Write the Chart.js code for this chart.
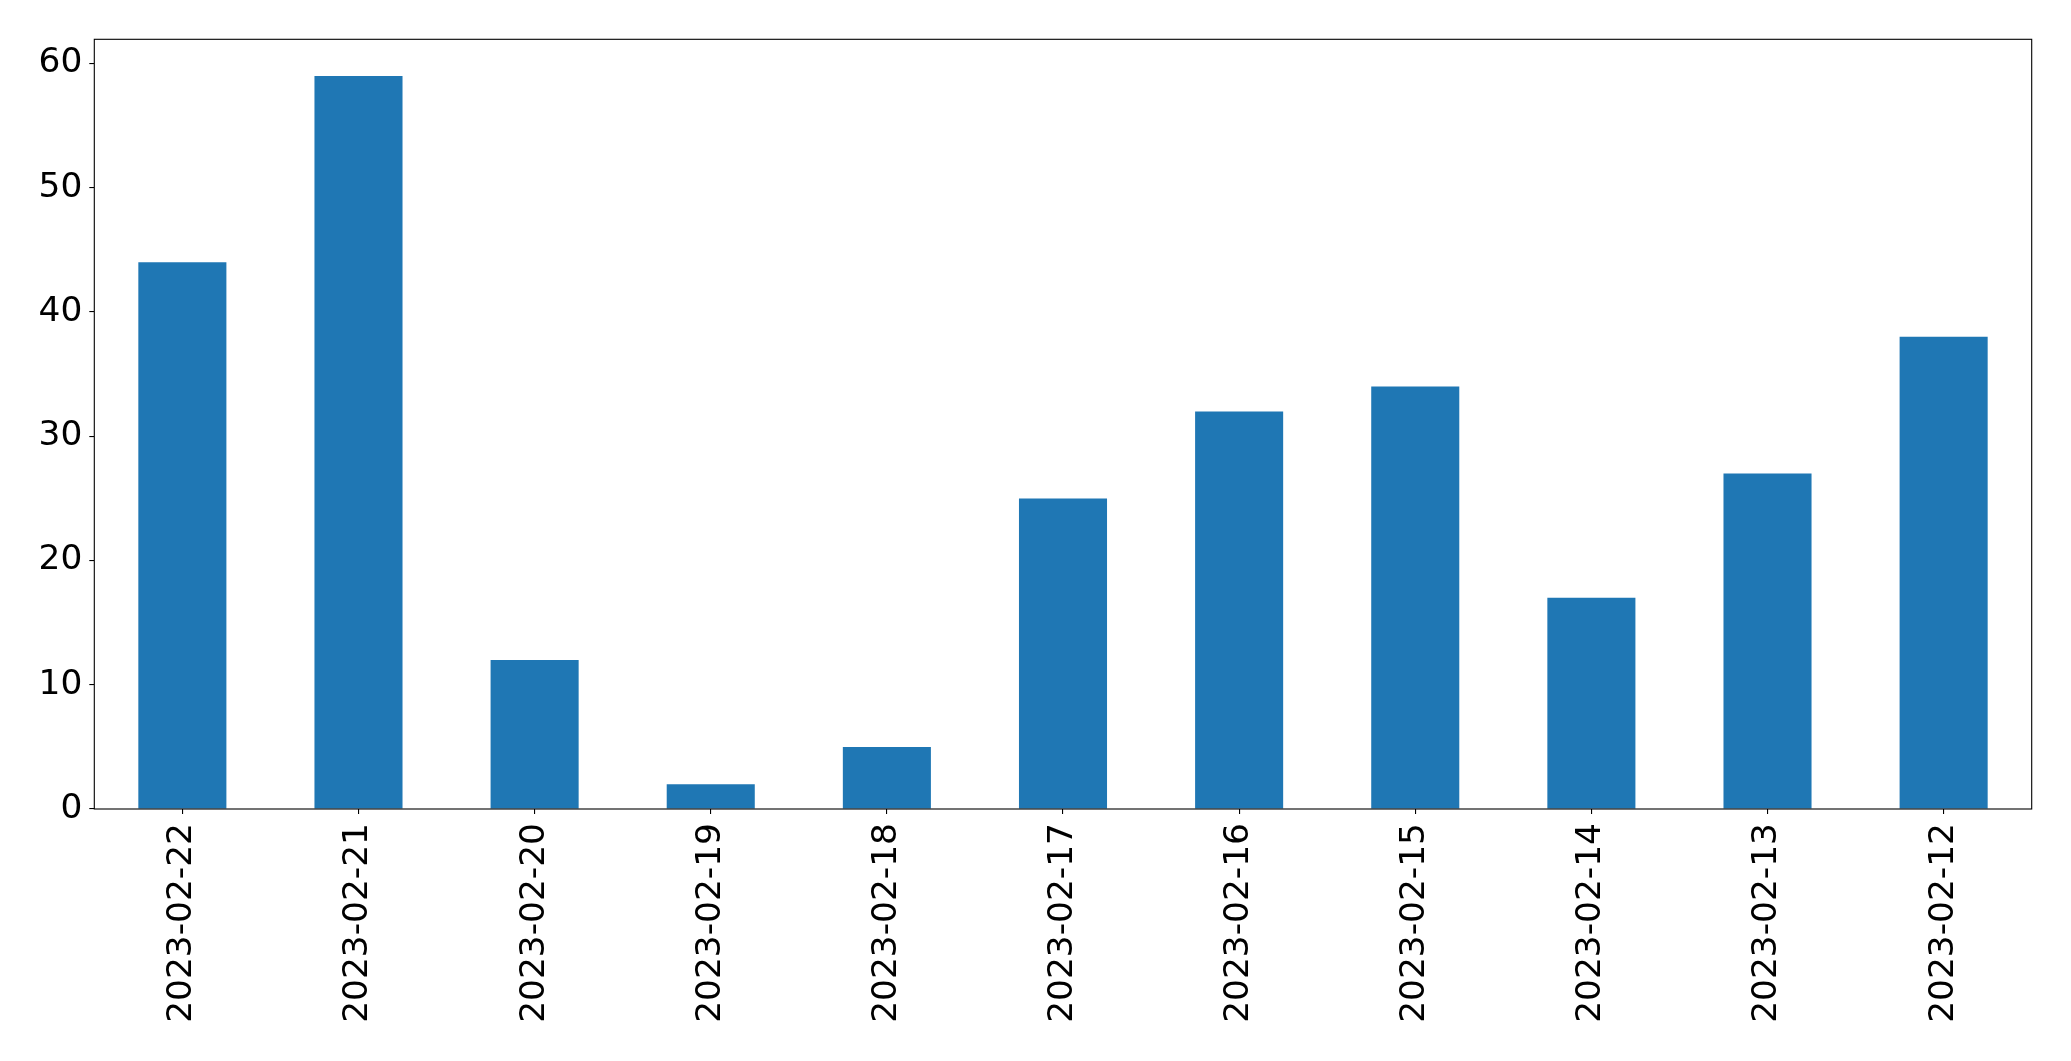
<!DOCTYPE html>
<html>
<head>
<meta charset="utf-8">
<script src="https://cdn.jsdelivr.net/npm/chart.js@4.4.0/dist/chart.umd.min.js"></script>
<style>
  body { margin: 0; background: #fff; }
  canvas { display: block; }
</style>
</head>
<body>
<canvas id="barChart" width="2071" height="1061"></canvas>
<script>
// data
const dates = ["2023-02-22", "2023-02-21", "2023-02-20", "2023-02-19", "2023-02-18",
  "2023-02-17", "2023-02-16", "2023-02-15", "2023-02-14", "2023-02-13", "2023-02-12"];
const counts = [44, 59, 12, 2, 5, 25, 32, 34, 17, 27, 38];
const yTicks = [0, 10, 20, 30, 40, 50, 60];

const FONT = { family: "DejaVu Sans", size: 34.4 };

// matplotlib style box around the plot area
const frame = {
  id: 'frame',
  afterDraw(chart) {
    const a = chart.chartArea;
    const ctx = chart.ctx;
    ctx.save();
    ctx.strokeStyle = '#000';
    ctx.lineWidth = 1.1;
    ctx.strokeRect(a.left, a.top, a.right - a.left, a.bottom - a.top);
    ctx.restore();
  }
};

window.onload = function(){
  Chart.defaults.font.family = FONT.family;
  Chart.defaults.color = '#000';

  new Chart(document.getElementById('barChart'), {
    type: 'bar',
    data: {
      labels: dates,
      datasets: [{
        data: counts,
        backgroundColor: '#1f77b4',
        borderWidth: 0,
        barPercentage: 0.5,
        categoryPercentage: 1.0
      }]
    },
    options: {
      responsive: false,
      animation: false,
      layout: { padding: { top: 39.3, right: 39.3, left: 0, bottom: 0 } },
      plugins: { legend: { display: false }, tooltip: { enabled: false } },
      scales: {
        x: {
          offset: true,
          border: { display: false },
          grid: { offset: false, drawOnChartArea: false, drawTicks: true, tickLength: 5, color: '#000', lineWidth: 1.1 },
          ticks: { font: FONT, color: '#000', minRotation: 90, maxRotation: 90, padding: 9, autoSkip: false },
          afterFit(scale) { scale.height = 252; }
        },
        y: {
          min: 0,
          max: 61.95,
          border: { display: false },
          grid: { drawOnChartArea: false, drawTicks: true, tickLength: 5, color: '#000', lineWidth: 1.1 },
          ticks: { font: FONT, color: '#000', padding: 7, includeBounds: false, stepSize: 10,
            callback: (v) => yTicks.includes(v) ? String(v) : null },
          afterFit(scale) { scale.width = 94.3; }
        }
      }
    },
    plugins: [frame]
  });
};
</script>
</body>
</html>
